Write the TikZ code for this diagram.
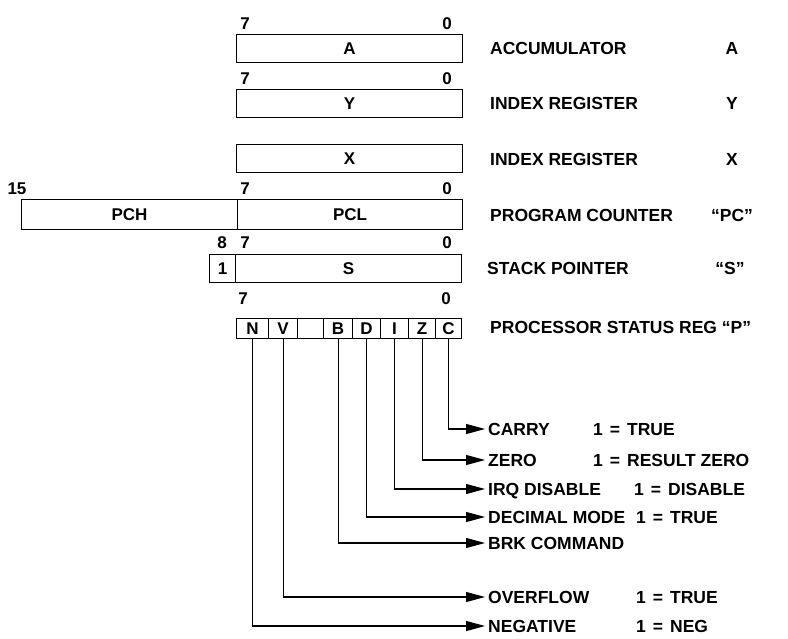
\documentclass[tikz,border=0pt]{standalone}
\usepackage{fontspec}
\setmainfont{Liberation Sans}
\usetikzlibrary{arrows.meta}
\newcommand\eqsign{\hspace{0.4em}=\hspace{0.4em}}
\begin{document}
\begin{tikzpicture}[x=1pt,y=-1pt,
  box/.style={draw,line width=1.1pt,inner sep=0pt,anchor=north west,font=\bfseries\fontsize{17}{17}\selectfont},
  bitno/.style={font=\bfseries\fontsize{17}{17}\selectfont,inner sep=0pt},
  lbl/.style={anchor=west,inner xsep=3pt,inner ysep=0pt,font=\bfseries\fontsize{17.5}{17.5}\selectfont,text height=12.5pt,text depth=0pt},
  sym/.style={inner sep=0pt,font=\bfseries\fontsize{17.5}{17.5}\selectfont,text height=12.5pt,text depth=0pt},
  flagline/.style={line width=1.1pt,-{Triangle[length=19pt,width=10pt]}},
]
\useasboundingbox (0,0) rectangle (788,639);

% bit numbers
\node[bitno] (a7) at (245,24) {7};
\node[bitno] (a0) at (447,24) {0};
\node[bitno] (y7) at (245,79) {7};
\node[bitno] (y0) at (447,79) {0};
\node[bitno] (pc15) at (17,189) {15};
\node[bitno] (pc7) at (245,189) {7};
\node[bitno] (pc0) at (447,189) {0};
\node[bitno] (s8) at (222,243) {8};
\node[bitno] (s7) at (245,243) {7};
\node[bitno] (s0) at (447,243) {0};
\node[bitno] (p7) at (243,299) {7};
\node[bitno] (p0) at (446,299) {0};

% registers
\node[box,minimum width=226pt,minimum height=28pt] (A) at (236,34) {A};
\node[box,minimum width=226pt,minimum height=28pt] (Y) at (236,89) {Y};
\node[box,minimum width=226pt,minimum height=28pt] (X) at (236,144) {X};
\node[box,minimum width=216pt,minimum height=30pt] (PCH) at (21,199) {PCH};
\node[box,minimum width=225pt,minimum height=30pt] (PCL) at (237,199) {PCL};
\node[box,minimum width=26pt,minimum height=28pt] (S1) at (209,254) {1};
\node[box,minimum width=226pt,minimum height=28pt] (S) at (235,254) {S};

% status register cells
\node[box,minimum width=32pt,minimum height=20pt] (N) at (236,318) {N};
\node[box,minimum width=29pt,minimum height=20pt] (V) at (268,318) {V};
\node[box,minimum width=26pt,minimum height=20pt] (U) at (297,318) {};
\node[box,minimum width=29pt,minimum height=20pt] (B) at (323,318) {B};
\node[box,minimum width=28pt,minimum height=20pt] (D) at (352,318) {D};
\node[box,minimum width=28pt,minimum height=20pt] (I) at (380,318) {I};
\node[box,minimum width=27pt,minimum height=20pt] (Z) at (408,318) {Z};
\node[box,minimum width=26pt,minimum height=20pt] (C) at (435,318) {C};

% right-hand labels
\node[lbl] (lA) at (487,48) {ACCUMULATOR};
\node[lbl] (lY) at (487,103) {INDEX REGISTER};
\node[lbl] (lX) at (487,159) {INDEX REGISTER};
\node[lbl] (lPC) at (487,215) {PROGRAM COUNTER};
\node[lbl] (lS) at (484,268) {STACK POINTER};
\node[lbl] (lP) at (487,327) {PROCESSOR STATUS REG “P”};
\node[sym] (sA) at (732,48) {A};
\node[sym] (sY) at (732,103) {Y};
\node[sym] (sX) at (732,159) {X};
\node[sym] (sPC) at (732,215) {“PC”};
\node[sym] (sS) at (730,268) {“S”};

% flag labels
\node[lbl] (carry) at (485,429) {CARRY};
\node[lbl] (zero) at (485,460) {ZERO};
\node[lbl] (irq) at (485,489) {IRQ DISABLE};
\node[lbl] (dec) at (485,517) {DECIMAL MODE};
\node[lbl] (brk) at (485,543) {BRK COMMAND};
\node[lbl] (ovf) at (485,597) {OVERFLOW};
\node[lbl] (neg) at (485,626) {NEGATIVE};

\node[lbl] (vcarry) at (590,429) {1\eqsign TRUE};
\node[lbl] (vzero) at (590,460) {1\eqsign RESULT ZERO};
\node[lbl] (virq) at (631,489) {1\eqsign DISABLE};
\node[lbl] (vdec) at (633,517) {1\eqsign TRUE};
\node[lbl] (vovf) at (633,597) {1\eqsign TRUE};
\node[lbl] (vneg) at (633,626) {1\eqsign NEG};

% connectors
\draw[flagline] (C.south) |- (carry.west);
\draw[flagline] (Z.south) |- (zero.west);
\draw[flagline] (I.south) |- (irq.west);
\draw[flagline] (D.south) |- (dec.west);
\draw[flagline] (B.south) |- (brk.west);
\draw[flagline] (V.south) |- (ovf.west);
\draw[flagline] (N.south) |- (neg.west);
\end{tikzpicture}
\end{document}
